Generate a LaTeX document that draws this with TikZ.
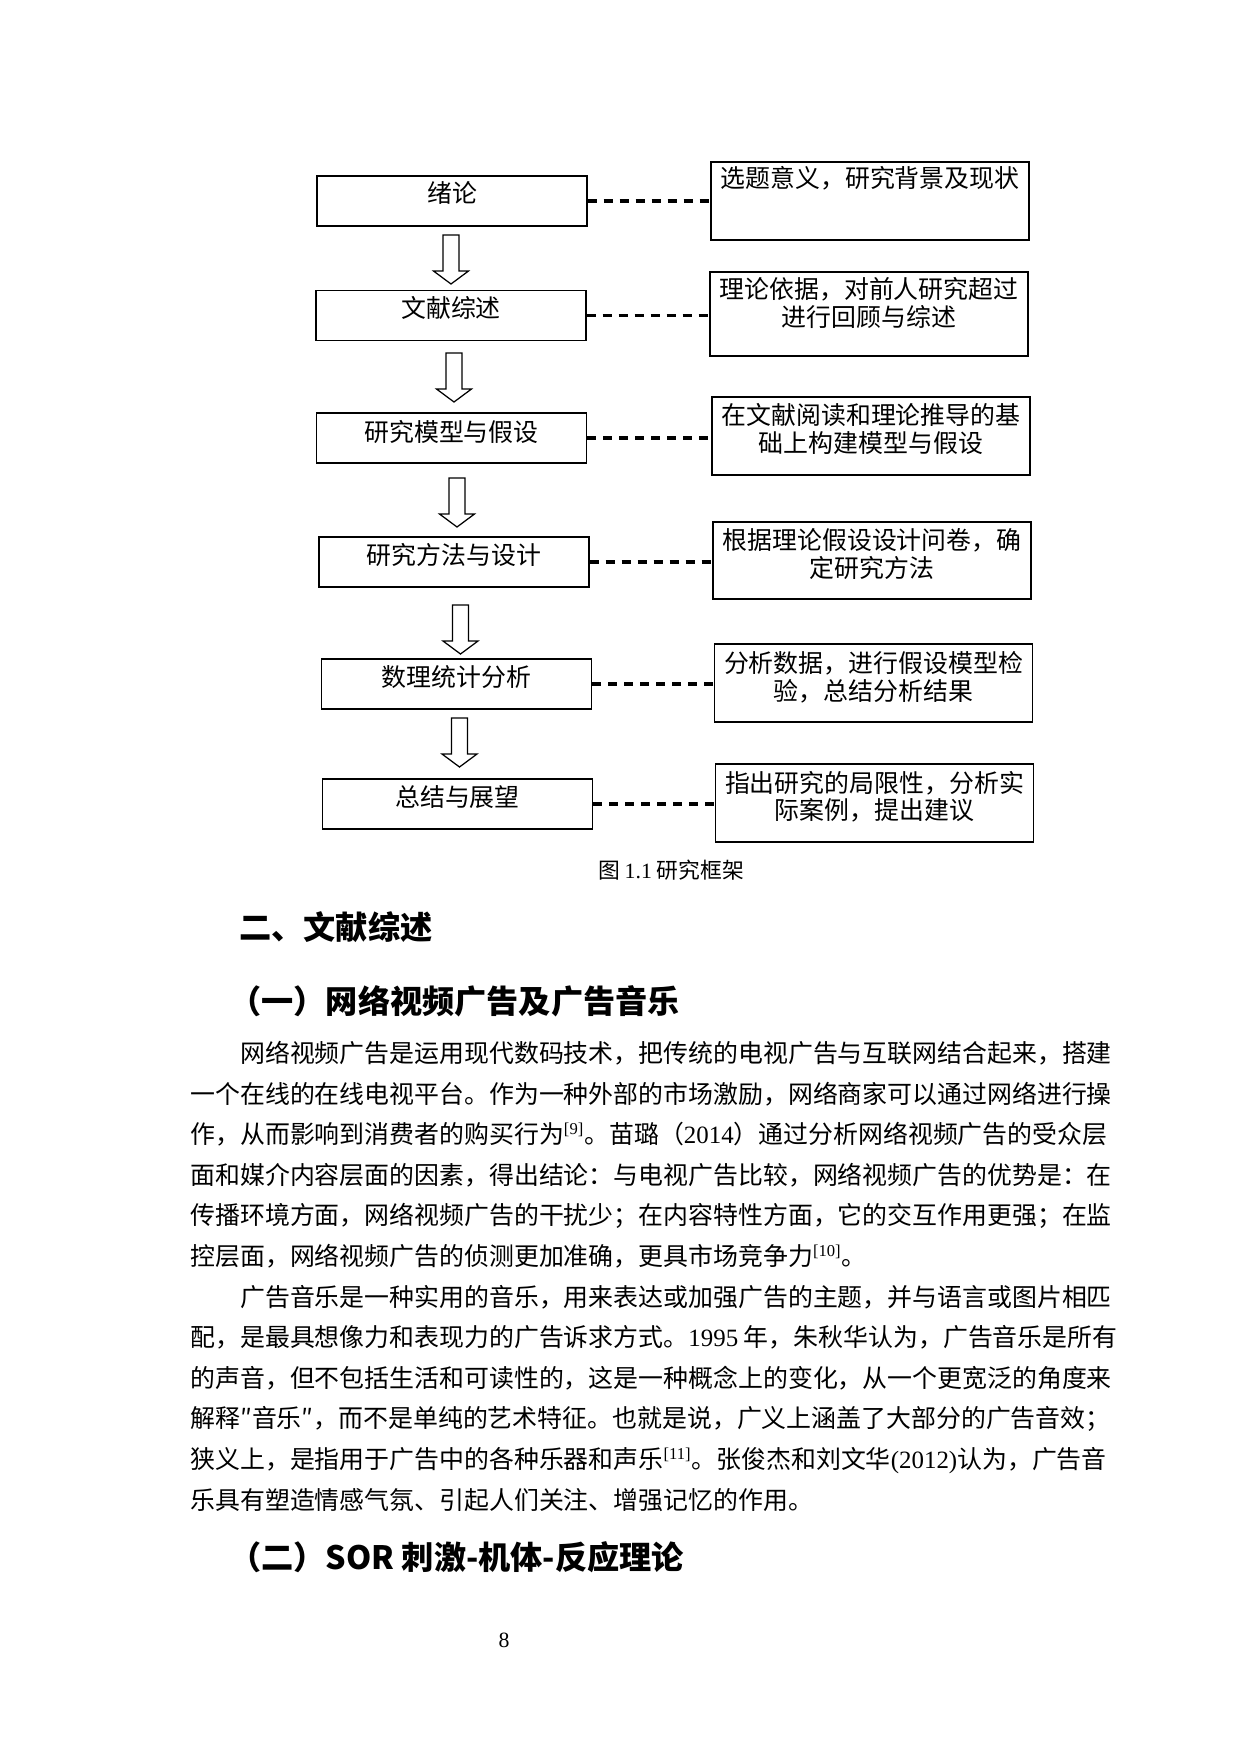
\documentclass[tikz,border=0pt]{standalone}
\usepackage{fontspec}
\setmainfont{Noto Sans CJK SC}
\newfontfamily\lat{Liberation Serif}
\usetikzlibrary{calc}
\XeTeXlinebreaklocale "zh"
\XeTeXlinebreakskip=0pt plus 1pt minus 0.1pt
\hbadness=10000
\def\pxu{0.169355mm}
\newcommand\blockarrow[2]{%
  \draw[blockarr] let \p1=(#1), \p2=(#2) in
    (\x1-8*\pxu,\y1) -- (\x1+8*\pxu,\y1) -- (\x1+8*\pxu,\y2+13*\pxu)
    -- (\x1+17.5*\pxu,\y2+13*\pxu) -- (\x1,\y2) -- (\x1-17.5*\pxu,\y2+13*\pxu)
    -- (\x1-8*\pxu,\y2+13*\pxu) -- cycle;}
\tikzset{
  lbox/.style={draw, line width=0.7pt, minimum width=270*\pxu, minimum height=50*\pxu, inner sep=0pt},
  rbox/.style={draw, line width=0.7pt, minimum width=318*\pxu, inner sep=0pt},
  boxtext/.style={anchor=base, inner sep=0pt, font=\fontsize{12pt}{14pt}\selectfont},
  dashlink/.style={line width=1.6pt, dash pattern=on 1.52mm off 1.19mm},
  blockarr/.style={draw, line width=0.6pt, fill=white},
  capt/.style={anchor=base, inner sep=0pt, font=\fontsize{10.5pt}{12pt}\selectfont},
  head/.style={anchor=base west, inner sep=0pt, font=\fontsize{15.5pt}{18pt}\selectfont\bfseries},
  bline/.style={anchor=base west, inner sep=0pt, text width=157.5mm, align=justify, font=\fontsize{12pt}{14pt}\selectfont},
  pnum/.style={anchor=base, inner sep=0pt, font=\lat\fontsize{10.5pt}{12pt}\selectfont}
}
\begin{document}
\begin{tikzpicture}[x=0.169355mm,y=-0.169355mm]
\useasboundingbox[fill=white] (0,0) rectangle (1240,1754);

% left boxes
\node[lbox] (b1) at (452,201) {};
\node[lbox] (b2) at (451,315.5) {};
\node[lbox] (b3) at (451.5,438) {};
\node[lbox] (b4) at (454,562) {};
\node[lbox] (b5) at (456.5,684) {};
\node[lbox] (b6) at (457.5,804) {};
\node[boxtext] (t1) at (452,202.5) {绪论};
\node[boxtext] (t2) at (451,317.5) {文献综述};
\node[boxtext] (t3) at (451.5,441.5) {研究模型与假设};
\node[boxtext] (t4) at (454,564.5) {研究方法与设计};
\node[boxtext] (t5) at (456.5,686.5) {数理统计分析};
\node[boxtext] (t6) at (457.5,806.5) {总结与展望};

% right boxes
\node[rbox, minimum height=78*\pxu] (r1) at (870,201) {};
\node[rbox, minimum height=84*\pxu] (r2) at (869,314) {};
\node[rbox, minimum height=78*\pxu] (r3) at (871,436) {};
\node[rbox, minimum height=77*\pxu] (r4) at (872,560.5) {};
\node[rbox, minimum height=78*\pxu] (r5) at (873.5,683) {};
\node[rbox, minimum height=78*\pxu] (r6) at (874.5,803) {};
\node[boxtext] (r1a) at (870,187.5) {选题意义，研究背景及现状};
\node[boxtext] (r2a) at (869,298.5) {理论依据，对前人研究超过};
\node[boxtext] (r2b) at (869,326.5) {进行回顾与综述};
\node[boxtext] (r3a) at (871,424.5) {在文献阅读和理论推导的基};
\node[boxtext] (r3b) at (871,452.5) {础上构建模型与假设};
\node[boxtext] (r4a) at (872,549.5) {根据理论假设设计问卷，确};
\node[boxtext] (r4b) at (872,577.5) {定研究方法};
\node[boxtext] (r5a) at (873.5,672.5) {分析数据，进行假设模型检};
\node[boxtext] (r5b) at (873.5,700.5) {验，总结分析结果};
\node[boxtext] (r6a) at (874.5,792.5) {指出研究的局限性，分析实};
\node[boxtext] (r6b) at (874.5,819.5) {际案例，提出建议};

% dashed links
\draw[dashlink] (b1.east) -- (b1.east -| r1.west);
\draw[dashlink] (b2.east) -- (b2.east -| r2.west);
\draw[dashlink] (b3.east) -- (b3.east -| r3.west);
\draw[dashlink] (b4.east) -- (b4.east -| r4.west);
\draw[dashlink] (b5.east) -- (b5.east -| r5.west);
\draw[dashlink] (b6.east) -- (b6.east -| r6.west);

% block arrows
\coordinate (a1s) at (451,235);   \coordinate (a1e) at (451,284);
\coordinate (a2s) at (454,353);   \coordinate (a2e) at (454,402);
\coordinate (a3s) at (457,478);   \coordinate (a3e) at (457,527);
\coordinate (a4s) at (460.5,605); \coordinate (a4e) at (460.5,654);
\coordinate (a5s) at (459.5,718); \coordinate (a5e) at (459.5,767);
\blockarrow{a1s}{a1e}
\blockarrow{a2s}{a2e}
\blockarrow{a3s}{a3e}
\blockarrow{a4s}{a4e}
\blockarrow{a5s}{a5e}

% caption
\node[capt] (cap) at (671,878.3) {图 {\lat 1.1} 研究框架};

% headings
\node[head] (h1) at (239,939) {二、文献综述};
\node[head] (h2) at (229,1013.2) {（一）网络视频广告及广告音乐};
\node[head] (h3) at (229,1569.2) {（二）{SOR} 刺激-机体-反应理论};

% body paragraph 1
\node[bline] (p1a) at (190,1062.5) {\hspace*{2em}\parfillskip=0pt 网络视频广告是运用现代数码技术，把传统的电视广告与互联网结合起来，搭建};
\node[bline] (p1b) at (190,1103.1) {\parfillskip=0pt 一个在线的在线电视平台。作为一种外部的市场激励，网络商家可以通过网络进行操};
\node[bline] (p1c) at (190,1143.7) {\parfillskip=0pt 作，从而影响到消费者的购买行为\textsuperscript{\lat [9]}。苗璐（{\lat 2014}）通过分析网络视频广告的受众层};
\node[bline] (p1d) at (190,1184.3) {\parfillskip=0pt 面和媒介内容层面的因素，得出结论：与电视广告比较，网络视频广告的优势是：在};
\node[bline] (p1e) at (190,1224.9) {\parfillskip=0pt 传播环境方面，网络视频广告的干扰少；在内容特性方面，它的交互作用更强；在监};
\node[bline] (p1f) at (190,1265.5) {控层面，网络视频广告的侦测更加准确，更具市场竞争力\textsuperscript{\lat [10]}。};

% body paragraph 2
\node[bline] (p2a) at (190,1306.1) {\hspace*{2em}\parfillskip=0pt 广告音乐是一种实用的音乐，用来表达或加强广告的主题，并与语言或图片相匹};
\node[bline] (p2b) at (190,1346.7) {\parfillskip=0pt 配，是最具想像力和表现力的广告诉求方式。{\lat 1995} 年，朱秋华认为，广告音乐是所有};
\node[bline] (p2c) at (190,1387.3) {\parfillskip=0pt 的声音，但不包括生活和可读性的，这是一种概念上的变化，从一个更宽泛的角度来};
\node[bline] (p2d) at (190,1427.9) {\parfillskip=0pt 解释″音乐″，而不是单纯的艺术特征。也就是说，广义上涵盖了大部分的广告音效；};
\node[bline] (p2e) at (190,1468.5) {\parfillskip=0pt 狭义上，是指用于广告中的各种乐器和声乐\textsuperscript{\lat [11]}。张俊杰和刘文华{\lat (2012)}认为，广告音};
\node[bline] (p2f) at (190,1509.1) {乐具有塑造情感气氛、引起人们关注、增强记忆的作用。};

% page number
\node[pnum] (pg) at (504,1647.2) {8};
\end{tikzpicture}
\end{document}
